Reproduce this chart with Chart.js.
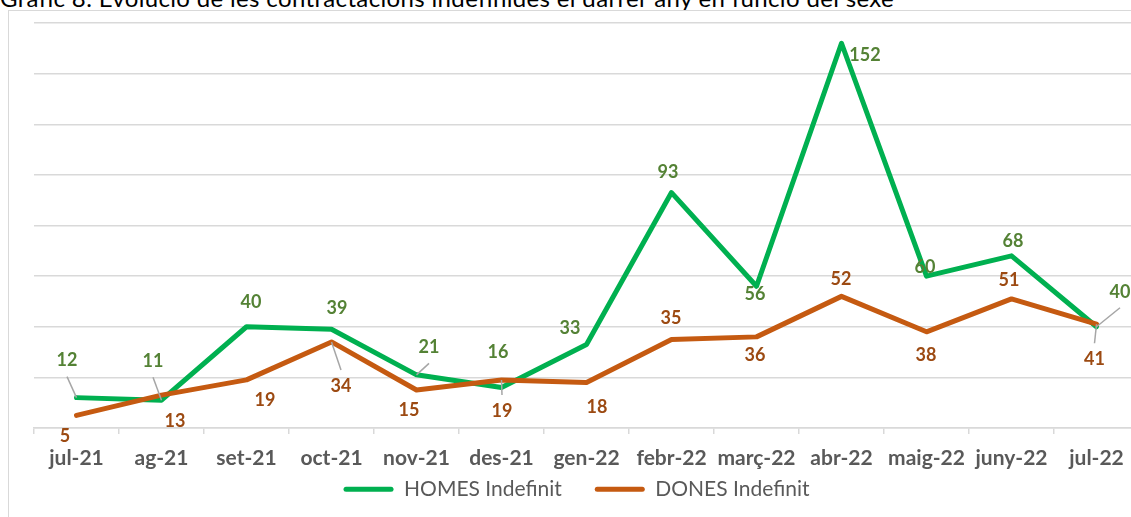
<!DOCTYPE html>
<html>
<head>
<meta charset="utf-8">
<script src="https://cdn.jsdelivr.net/npm/chart.js@4/dist/chart.umd.min.js"></script>
<style>
html,body{margin:0;padding:0;overflow:hidden;background:#fff;width:1131px;height:517px;position:relative;}
#title{position:absolute;left:0;top:-17px;font-family:Lato,sans-serif;font-size:24px;letter-spacing:0.35px;line-height:29px;white-space:nowrap;color:#000;}
#frame{position:absolute;left:8px;top:10px;width:1200px;height:600px;border-left:1px solid #d9d9d9;border-top:1px solid #d9d9d9;}
#c{position:absolute;left:0;top:0;}
</style>
</head>
<body>
<div id="title">Gràfic 8. Evolució de les contractacions indefinides el darrer any en funció del sexe</div>
<div id="frame"></div>
<canvas id="c" width="1145" height="517"></canvas>
<script>
// ---- data ----
const categories = ['jul-21','ag-21','set-21','oct-21','nov-21','des-21','gen-22','febr-22','març-22','abr-22','maig-22','juny-22','jul-22'];
const homes = [12, 11, 40, 39, 21, 16, 33, 93, 56, 152, 60, 68, 40];
const dones = [5, 13, 19, 34, 15, 19, 18, 35, 36, 52, 38, 51, 41];
const seriesNames = ['HOMES Indefinit', 'DONES Indefinit'];
const yMin = 0, yMax = 160, yStep = 20;

// ---- label placement (offsets from the point, in px) ----
const homesLabelOffset = [[-9.5,-37],[-8.5,-39],[4.5,-24.5],[5.5,-21],[12.5,-27.5],[-3.5,-35],[-16.5,-16.5],[-3.5,-20.5],[-1.5,8],[23.5,12],[-1.5,-9],[1.5,-15],[23.5,-35]];
const homesLeader = [true,true,false,false,true,false,false,false,false,false,false,false,true];
const donesLabelOffset = [[-11.5,21],[13.5,26],[18.5,20],[9.5,44],[-7.5,20],[0.5,31],[10.5,25],[-0.5,-21],[-1.5,18],[-0.5,-17],[-0.5,23],[-2.5,-19],[-2,35]];
const donesLeader = [false,false,false,true,false,true,false,false,false,false,false,false,true];

const GREEN = '#00b050', ORANGE = '#c55a11';
const GREEN_TXT = '#548235', ORANGE_TXT = '#9c4a12';

const labelPlugin = {
  id: 'pointLabels',
  afterDatasetsDraw(chart) {
    const ctx = chart.ctx;
    const specs = [
      {ds: 0, offsets: homesLabelOffset, leaders: homesLeader, color: GREEN_TXT},
      {ds: 1, offsets: donesLabelOffset, leaders: donesLeader, color: ORANGE_TXT}
    ];
    ctx.save();
    specs.forEach(s => {
      const meta = chart.getDatasetMeta(s.ds);
      const vals = chart.data.datasets[s.ds].data;
      meta.data.forEach((pt, i) => {
        const lx = pt.x + s.offsets[i][0];
        const ly = pt.y + s.offsets[i][1];
        if (s.leaders[i]) {
          const halfH = 16;
          let ex = lx, ey = ly;
          if (ly + halfH < pt.y) ey = ly + halfH;
          else if (ly - halfH > pt.y) ey = ly - halfH;
          ctx.beginPath();
          ctx.strokeStyle = '#a6a6a6';
          ctx.lineWidth = 1.5;
          ctx.moveTo(pt.x, pt.y);
          ctx.lineTo(ex, ey);
          ctx.stroke();
        }
        ctx.font = 'bold 18px Lato';
        ctx.textAlign = 'center';
        ctx.textBaseline = 'middle';
        ctx.fillStyle = s.color;
        ctx.fillText(String(vals[i]), lx, ly);
      });
    });
    ctx.restore();
  }
};

// legend sits closer to the axis labels than Chart.js's default box stacking allows
const LEGEND_SHIFT = 25.5;
const legendTweak = {
  id: 'legendTweak',
  beforeLayout(chart) {
    const lg = chart.legend;
    if (lg && !lg._patched) {
      const orig = lg.fit.bind(lg);
      lg.fit = function() { orig(); this.height = this.height - LEGEND_SHIFT; };
      lg._patched = true;
    }
  },
  afterLayout(chart) {
    const lg = chart.legend;
    if (lg) { lg.top -= LEGEND_SHIFT; lg.height += LEGEND_SHIFT; }
  }
};

function build() {
  new Chart(document.getElementById('c'), {
    type: 'line',
    data: {
      labels: categories,
      datasets: [
        {label: seriesNames[0], data: homes, borderColor: GREEN, backgroundColor: GREEN, borderWidth: 5,
         pointRadius: 0, tension: 0, order: 1, borderCapStyle: 'round', borderJoinStyle: 'round'},
        {label: seriesNames[1], data: dones, borderColor: ORANGE, backgroundColor: ORANGE, borderWidth: 5,
         pointRadius: 0, tension: 0, order: 0, borderCapStyle: 'round', borderJoinStyle: 'round'}
      ]
    },
    options: {
      responsive: false,
      animation: false,
      devicePixelRatio: 1,
      layout: {padding: {left: 14, right: 6, top: 23, bottom: 7.3}},
      scales: {
        x: {
          offset: true,
          grid: {offset: true, drawOnChartArea: false, drawTicks: true, tickLength: 6, color: '#d9d9d9', lineWidth: 1.5},
          border: {display: true, color: '#d9d9d9', width: 1.5},
          ticks: {font: {family: 'Lato', size: 21, weight: 'bold'}, color: '#595959', padding: 11.5, maxRotation: 0, autoSkip: false},
          afterFit(scale) { scale.height = 43.2; }
        },
        y: {
          min: yMin, max: yMax,
          ticks: {display: false, stepSize: yStep},
          grid: {drawTicks: false, color: '#d9d9d9', lineWidth: 1.5},
          border: {display: false},
          afterFit(scale) { scale.width = 20; }
        }
      },
      plugins: {
        tooltip: {enabled: false},
        legend: {
          position: 'bottom',
          labels: {
            boxWidth: 50, boxHeight: 5, padding: 33, color: '#595959',
            font: {family: 'Lato', size: 21},
            useBorderRadius: true, borderRadius: 2.5,
            sort: (a, b) => a.datasetIndex - b.datasetIndex,
            generateLabels(chart) {
              return chart.data.datasets.map((d, i) => ({
                text: d.label, fillStyle: d.borderColor, strokeStyle: d.borderColor,
                lineWidth: 0, datasetIndex: i, hidden: false, fontColor: '#595959', borderRadius: 2.5
              }));
            }
          }
        }
      }
    },
    plugins: [legendTweak, labelPlugin]
  });
}
Promise.all([
  document.fonts.load('bold 18px Lato'),
  document.fonts.load('21px Lato')
]).then(build, build);
</script>
</body>
</html>
